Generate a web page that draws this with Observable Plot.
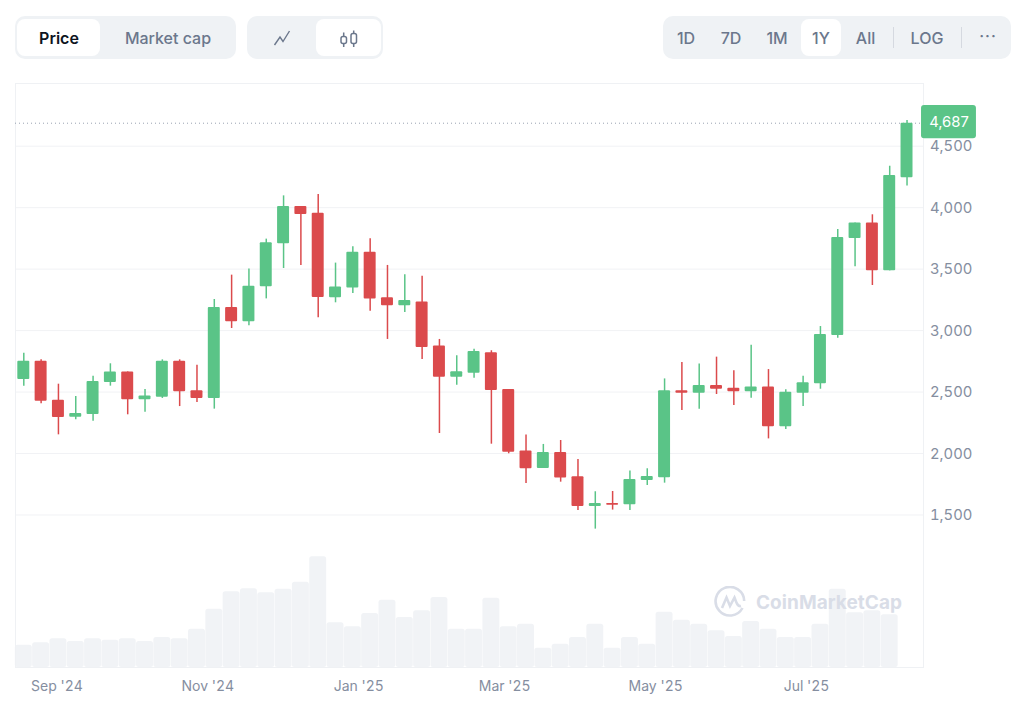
<!DOCTYPE html>
<html>
<head>
<meta charset="utf-8">
<script src="https://cdn.jsdelivr.net/npm/d3@7"></script>
<script src="https://cdn.jsdelivr.net/npm/@observablehq/plot@0.6"></script>
<style>
html,body{margin:0;padding:0;background:#fff;font-family:Inter,sans-serif;width:1024px;height:709px;overflow:hidden}
#bar{position:relative;height:60px;width:1024px}
.grp{position:absolute;top:16px;height:43px;background:#eff2f5;border-radius:10px}
.seg{position:absolute;top:19px;height:37px;background:#fff;border-radius:8px}
.lb{position:absolute;top:37.5px;transform:translate(-50%,-50%);font-size:16px;font-weight:500;color:#6b778c;white-space:nowrap;line-height:1}
.sep{position:absolute;top:27px;height:21px;width:1px;background:#d5d9e0}
#chart{position:relative;width:1024px;height:649px}
#chart > svg{position:absolute;left:0;top:0}
#wm{position:absolute;left:714px;top:526px;height:32px;display:flex;align-items:center;color:#d9dde7;font-size:19px;font-weight:700;letter-spacing:.05px}
#wm svg{position:static;flex:none;margin-right:10px}
</style>
</head>
<body>
<div id="bar">
  <div class="grp" style="left:15px;width:221px"></div>
  <div class="seg" style="left:17px;width:83px"></div>
  <div class="lb" style="left:59px;font-weight:600;color:#0d1421">Price</div>
  <div class="lb" style="left:168px">Market cap</div>
  <div class="grp" style="left:247px;width:136px"></div>
  <div class="seg" style="left:316px;width:65px"></div>
  <svg style="position:absolute;left:273px;top:29px" width="18" height="18" viewBox="0 0 18 18" fill="none" stroke="#6b778c" stroke-width="1.4"><path d="M1.5 16 L7 8 L10 12.5 L16.5 2"/></svg>
  <svg style="position:absolute;left:339px;top:29px" width="20" height="20" viewBox="0 0 20 20" fill="none" stroke="#6b778c" stroke-width="1.5"><rect x="2" y="7.5" width="5.5" height="7" rx="2"/><path d="M4.7 3.5V7.5M4.7 14.5V18"/><rect x="12" y="4.5" width="5.5" height="10" rx="2"/><path d="M14.7 1.5V4.5M14.7 14.5V18"/></svg>
  <div class="grp" style="left:663px;width:348px"></div>
  <div class="seg" style="left:801px;width:40px"></div>
  <div class="lb" style="left:686px">1D</div>
  <div class="lb" style="left:731px">7D</div>
  <div class="lb" style="left:777px">1M</div>
  <div class="lb" style="left:821px">1Y</div>
  <div class="lb" style="left:865.5px">All</div>
  <div class="sep" style="left:893px"></div>
  <div class="lb" style="left:927px">LOG</div>
  <div class="sep" style="left:961px"></div>
  <div class="lb" style="left:988px;letter-spacing:1px;top:36px">···</div>
</div>
<div id="chart"></div>
<script>
const open = [2602,2751,2434,2296,2317,2578,2664,2437,2458,2751,2510,2448,3188,3071,3356,3706,4009,3955,3267,3346,3638,3267,3202,3232,2874,2621,2654,2819,2521,2020,1878,2009,1811,1569,1594,1583,1781,1803,2510,2491,2553,2531,2502,2542,2217,2491,2567,2960,3749,3876,3486,4243];
const close = [2751,2426,2293,2325,2586,2664,2437,2467,2751,2502,2448,3188,3071,3361,3714,4009,3944,3269,3354,3638,3256,3202,3245,2863,2621,2665,2830,2513,2011,1876,2009,1800,1569,1594,1580,1789,1813,2510,2491,2553,2523,2502,2542,2217,2499,2575,2968,3757,3876,3486,4262,4687];
const high = [2816,2762,2564,2464,2629,2730,2664,2521,2762,2762,2719,3253,3451,3502,3744,4096,4009,4107,3549,3682,3747,3530,3454,3443,2928,2795,2849,2836,2521,2150,2074,2106,1952,1689,1691,1857,1876,2607,2740,2729,2784,2673,2881,2683,2518,2629,3033,3822,3876,3942,4337,4709];
const low = [2548,2404,2152,2274,2263,2548,2315,2336,2448,2382,2415,2361,3017,3039,3258,3505,3530,3104,3226,3302,3158,2928,3148,2765,2163,2556,2613,2076,1998,1756,1878,1767,1537,1385,1540,1537,1740,1759,2350,2361,2480,2390,2450,2119,2195,2382,2523,2938,3519,3367,3486,4177];
const volume = [22.3,24.7,28.7,26,28.7,27.3,28.7,26,30,28.7,38.3,58.3,75.7,78.7,74.7,78.3,85.3,110.7,44.7,40.7,54,67.3,50,56.7,70,38.3,38.3,69.3,40.7,43.3,19.3,23.3,30,43.3,19.3,30,23.3,55.3,47.3,43.3,36.7,31,46,38.3,30,30,43.3,78.3,54.7,56.7,52.7];
const priceTicks = [1500,2000,2500,3000,3500,4000,4500];
const monthTicks = ["2024-09-01","2024-11-01","2025-01-01","2025-03-01","2025-05-01","2025-07-01"].map(d => new Date(d));
const lastPrice = 4687;

const weeks = d3.utcWeek.range(new Date("2024-08-18"), new Date("2025-08-11"));
const candles = weeks.map((date, i) => ({date, open: open[i], close: close[i], high: high[i], low: low[i], up: close[i] >= open[i]}));
const volumes = volume.map((v, i) => ({date: weeks[i], v}));

const GREEN = "#5ac487", RED = "#db4a4c";
const day = 864e5;
const shift = (d, n) => new Date(+d + n * day);
const xDomain = [new Date("2024-08-14T15:30Z"), new Date("2025-08-16T15:50Z")];
const frameMargins = {width: 1024, height: 649, marginLeft: 15, marginRight: 101, marginTop: 23, marginBottom: 42};

const volPlot = Plot.plot({
  ...frameMargins,
  style: {background: "transparent"},
  x: {domain: xDomain, axis: null},
  y: {domain: [0, 584], axis: null},
  marks: [
    Plot.rectY(volumes, {x1: d => shift(d.date, -3.42), x2: d => shift(d.date, 3.42), y: "v", fill: "#f1f3f6", rx: 2.5})
  ]
});

const pricePlot = Plot.plot({
  ...frameMargins,
  style: {background: "transparent", fontFamily: "Inter, sans-serif", color: "#858ea0"},
  x: {domain: xDomain},
  y: {domain: [259.4, 5010]},
  marks: [
    Plot.gridY(priceTicks, {stroke: "#f1f2f5", strokeOpacity: 1}),
    Plot.frame({stroke: "#eff1f4"}),
    Plot.ruleY([lastPrice], {stroke: "#9aa2b1", strokeDasharray: "1,3", strokeWidth: 1}),
    Plot.ruleX(candles, {x: "date", y1: "low", y2: "high", stroke: d => d.up ? GREEN : RED, strokeWidth: 1.5}),
    Plot.rect(candles, {
      x1: d => shift(d.date, -2.42), x2: d => shift(d.date, 2.42),
      y1: d => Math.min(d.open, d.close), y2: d => Math.max(d.open, d.close),
      fill: d => d.up ? GREEN : RED, rx: 1
    }),
    Plot.axisY(priceTicks, {anchor: "right", tickSize: 0, tickPadding: 6.5, tickFormat: d3.format(","), label: null, fontSize: 14.8, fill: "#858ea0", dy: 0.5}),
    Plot.axisX(monthTicks, {anchor: "bottom", tickSize: 0, tickPadding: 14, tickFormat: d3.utcFormat("%b '%y"), label: null, fontSize: 14, fill: "#858ea0", dx: -1.5}),
    Plot.rect([lastPrice], {
      x1: () => shift(xDomain[1], -0.8), x2: () => shift(xDomain[1], 21.4),
      y1: d => d - 127, y2: d => d + 144, fill: GREEN, rx: 3
    }),
    Plot.text([lastPrice], {
      x: () => shift(xDomain[1], 10.3), y: d => d + 8,
      text: d => d3.format(",")(d), fill: "#fff", fontSize: 14.8
    })
  ]
});

const chart = document.getElementById("chart");
chart.append(volPlot, pricePlot);
const wm = document.createElement("div");
wm.id = "wm";
wm.innerHTML = '<svg width="32" height="32" viewBox="0 0 32 32" fill="none" stroke="#d9dde7" stroke-width="2.6"><path d="M28.5 22 A14.3 14.3 0 1 1 30.2 15"/><path d="M8 22 L12.5 11.5 L16 20 L20.5 11.5 C22 15 23 21 27 20"/></svg><span>CoinMarketCap</span>';
chart.append(wm);
</script>
</body>
</html>
